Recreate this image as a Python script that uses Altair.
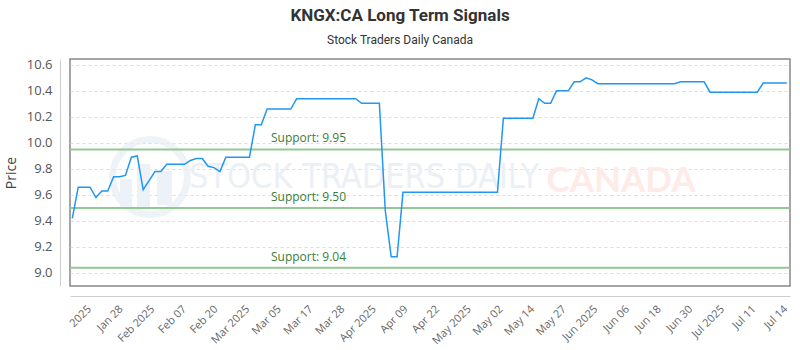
import altair as alt
import pandas as pd

# ---- data ----
prices = [
    9.42, 9.66, 9.66, 9.66, 9.58, 9.63, 9.63, 9.74, 9.74, 9.75,
    9.89, 9.90, 9.64, 9.71, 9.78, 9.78, 9.835, 9.835, 9.835, 9.835,
    9.865, 9.88, 9.88, 9.82, 9.81, 9.78, 9.89, 9.89, 9.89, 9.89,
    9.89, 10.14, 10.14, 10.26, 10.26, 10.26, 10.26, 10.26, 10.34, 10.34,
    10.34, 10.34, 10.34, 10.34, 10.34, 10.34, 10.34, 10.34, 10.34, 10.305,
    10.305, 10.305, 10.305, 9.48, 9.125, 9.125, 9.62, 9.62, 9.62, 9.62,
    9.62, 9.62, 9.62, 9.62, 9.62, 9.62, 9.62, 9.62, 9.62, 9.62,
    9.62, 9.62, 9.62, 10.19, 10.19, 10.19, 10.19, 10.19, 10.19, 10.34,
    10.305, 10.305, 10.40, 10.40, 10.40, 10.47, 10.47, 10.50, 10.485, 10.455,
    10.455, 10.455, 10.455, 10.455, 10.455, 10.455, 10.455, 10.455, 10.455, 10.455,
    10.455, 10.455, 10.455, 10.47, 10.47, 10.47, 10.47, 10.47, 10.39, 10.39,
    10.39, 10.39, 10.39, 10.39, 10.39, 10.39, 10.39, 10.46, 10.46, 10.46,
    10.46, 10.46,
]
tick_labels = [
    "2025", "Jan 28", "Feb 2025", "Feb 07", "Feb 20", "Mar 2025", "Mar 05",
    "Mar 17", "Mar 28", "Apr 2025", "Apr 09", "Apr 22", "May 2025", "May 02",
    "May 14", "May 27", "Jun 2025", "Jun 06", "Jun 18", "Jun 30", "Jul 2025",
    "Jul 11", "Jul 14",
]
tick_pos = [3.0, 8.36, 13.72, 19.08, 24.44, 29.8, 35.16, 40.52, 45.88, 51.24,
            56.6, 61.96, 67.32, 72.68, 78.04, 83.4, 88.76, 94.12, 99.48,
            104.84, 110.2, 115.56, 120.92]
y_ticks = [9.0, 9.2, 9.4, 9.6, 9.8, 10.0, 10.2, 10.4, 10.6]
support_levels = [9.95, 9.50, 9.04]
support_text = ["Support: 9.95", "Support: 9.50", "Support: 9.04"]
support_label_at = 40.0

df = pd.DataFrame({"i": list(range(len(prices))), "price": prices})
sup = pd.DataFrame({"level": support_levels, "label": support_text,
                    "i": [support_label_at] * len(support_levels)})
one = pd.DataFrame({"k": [0]})

label_arr = "[" + ",".join('"%s"' % t for t in tick_labels) + "]"
pos_arr = "[" + ",".join(str(p) for p in tick_pos) + "]"
label_expr = label_arr + "[indexof(" + pos_arr + ", datum.value)]"

xscale = alt.Scale(domain=[-0.39, 121.54], nice=False, zero=False)
yscale = alt.Scale(domain=[8.9, 10.645], nice=False, zero=False)

xaxis = alt.Axis(values=tick_pos, labelExpr=label_expr, labelAngle=-45,
                 offset=10, domainColor="#cccccc", ticks=False, grid=False,
                 labelFontSize=11, labelColor="#666666", labelFont="Open Sans",
                 labelPadding=7, labelOffset=-5, title=None, labelOverlap=False)
yaxis = alt.Axis(values=y_ticks, format=".1f", offset=10,
                 domainColor="#cccccc", ticks=False, labelOverlap=False,
                 grid=True, gridDash=[3, 3], gridColor="#dddddd",
                 labelColor="#555555", labelFontSize=13, labelFont="Open Sans",
                 labelPadding=8, title="Price", titleFontSize=14,
                 titleColor="#444444", titleFontWeight="normal",
                 titleFont="Open Sans", titlePadding=8)

X = alt.X("i:Q", scale=xscale, axis=xaxis)

# watermark (decoration, pixel placed)
wm_circle = alt.Chart(one).mark_point(
    shape="circle", size=5600, filled=False, stroke="#e8eef6", strokeWidth=7
).encode(x=alt.value(80), y=alt.value(118))
wm_bar_df = pd.DataFrame({"x0": [50, 67, 87], "x1": [62, 80, 102],
                          "y0": [120, 105, 112], "y1": [150, 150, 146]})
wm_bars = alt.Chart(wm_bar_df).mark_rect(color="#edf2f8").encode(
    x=alt.X("x0:Q", scale=None, axis=None),
    x2="x1:Q",
    y=alt.Y("y0:Q", scale=None, axis=None),
    y2="y1:Q",
)
wm_text = alt.Chart(one).mark_text(
    text="STOCK TRADERS DAILY", font="DejaVu Sans Condensed", fontSize=34,
    color="#ebf0f7", align="center", baseline="middle"
).encode(x=alt.value(294), y=alt.value(119))
wm_canada = alt.Chart(one).mark_text(
    text="CANADA", font="Lato", fontSize=35, fontWeight="bold",
    color="#feebe8", align="center", baseline="middle"
).encode(x=alt.value(551), y=alt.value(122))

base_line = alt.Chart(df).mark_line(color="#2196f3", strokeWidth=1.5).encode(
    x=X,
    y=alt.Y("price:Q", scale=yscale, axis=yaxis),
)
rules = alt.Chart(sup).mark_rule(color="#92c892", strokeWidth=2).encode(
    y=alt.Y("level:Q", scale=yscale, axis=yaxis)
)
labels = alt.Chart(sup).mark_text(
    color="#3a7d3a", fontSize=12, font="Open Sans", align="center",
    baseline="bottom", dy=-4
).encode(x=X, y=alt.Y("level:Q", scale=yscale, axis=yaxis), text="label:N")

chart = alt.layer(wm_circle, wm_bars, wm_text, wm_canada, rules, labels, base_line).properties(
    width=720, height=227,
    title=alt.TitleParams(
        text="KNGX:CA Long Term Signals", subtitle="Stock Traders Daily Canada",
        anchor="middle", dx=-30, font="Roboto", fontSize=17, fontWeight="bold",
        color="#333333", subtitleFont="Roboto", subtitleFontSize=12,
        subtitleColor="#333333", subtitlePadding=10, offset=12,
    ),
    autosize=alt.AutoSizeParams(type="none"),
    padding={"left": 70, "top": 59, "right": 10, "bottom": 64},
).configure_view(stroke="#888888", strokeWidth=1.5
).configure_axis(labelOverlap=False)

chart.save("out.html", embed_options={"renderer": "svg", "actions": False})
